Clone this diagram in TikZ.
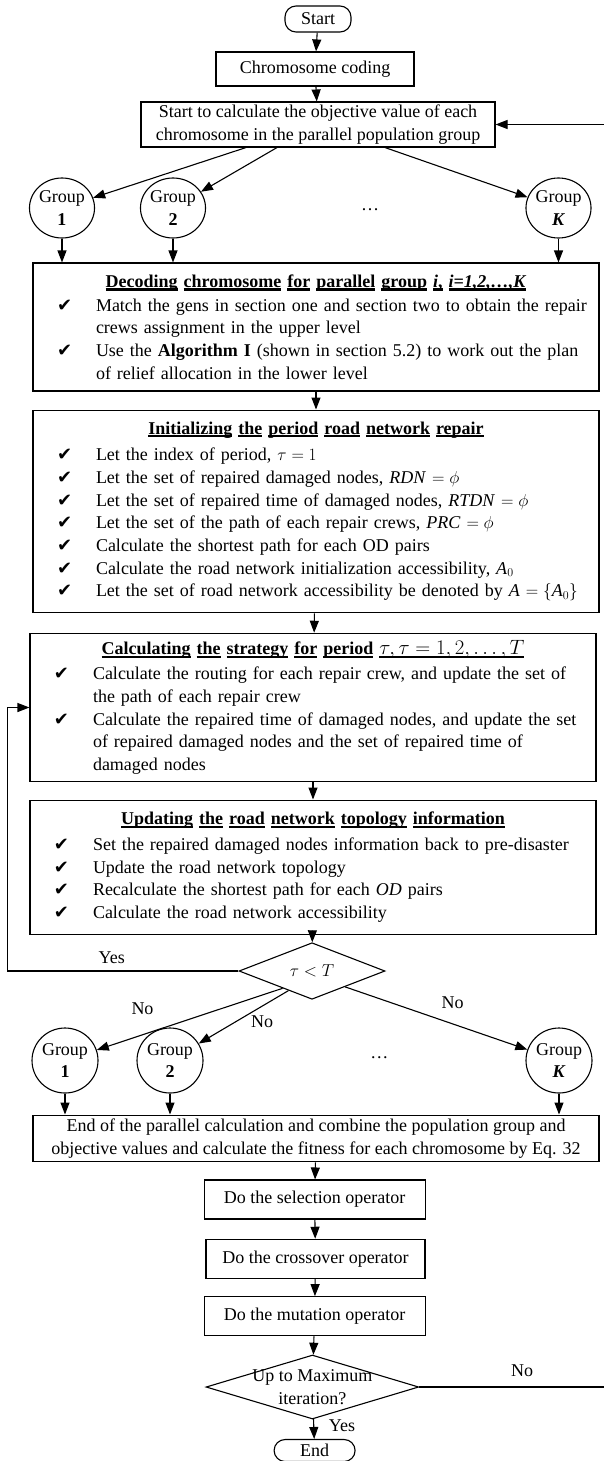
\documentclass[tikz,border=0pt]{standalone}
\usepackage{fontspec}
\setmainfont{Liberation Serif}
\newfontfamily\symfont{DejaVu Sans}
\usetikzlibrary{shapes.geometric,arrows.meta,calc}

% word-wise underline for the box titles
\newcommand\uw[1]{\setbox0=\hbox{#1}\rlap{\rule[-3.4pt]{\wd0}{2.4pt}}\box0\relax}
\newcommand\chk{\makebox[59pt][l]{\hspace{20pt}{\symfont\fontsize{18pt}{18pt}\selectfont ✔}}}
\newcommand\itm[1]{\par\noindent\chk#1}
\newcommand\nl{\newline\hspace*{59pt}}

\tikzset{
  blk/.style={draw, rectangle, inner sep=0pt, align=center},
  term/.style={draw, rectangle, rounded corners=11pt, inner sep=0pt},
  grp/.style={draw, ellipse, minimum width=63pt, minimum height=60pt, inner sep=0pt, align=center},
  lst/.style={draw, rectangle, inner xsep=4pt, inner ysep=0pt, text width=558pt, align=left},
  dec/.style={draw, diamond, inner sep=0pt},
}

\begin{document}
\begin{tikzpicture}[x=1pt, y=-1pt, line width=1.1pt,
    >={Triangle[length=12pt,width=9pt]},
    font=\fontsize{18pt}{22.7pt}\selectfont]
  \useasboundingbox (0,0) rectangle (604,1461);
  \clip (0,0) rectangle (604,1461);

  \node[term, minimum width=66pt, minimum height=26pt] (start) at (318,19) {Start};
  \node[blk, minimum width=198pt, minimum height=34pt] (code) at (315,69) {Chromosome coding};
  \node[blk, minimum width=354pt, minimum height=45pt] (calc) at (318,124.5)
    {Start to calculate the objective value of each\\chromosome in the parallel population group};

  \foreach \n/\x/\t in {ga1/62/1, ga2/173/2, gaK/558.5/\textit{K}}{
    \node[grp] (\n) at (\x,208) {Group\\\textbf{\t}};
  }
  \node (dotsA) at (370,210) {\dots};

  \node[lst, minimum height=128pt] (decode) at (316,327) {%
    {\centering\bfseries \uw{Decoding} \uw{chromosome} \uw{for} \uw{parallel} \uw{group}
      \uw{\textit{i},} \uw{\textit{i=1,2,\dots,K}}\par}\vspace{1pt}
    \itm{Match the gens in section one and section two to obtain the repair\nl crews assignment in the upper level}
    \itm{Use the \textbf{Algorithm I} (shown in section 5.2) to work out the plan\nl of relief allocation in the lower level}};

  \node[lst, minimum height=202.7pt] (init) at (316,511.4) {%
    {\centering\bfseries \uw{Initializing} \uw{the} \uw{period} \uw{road} \uw{network} \uw{repair}\par}\vspace{4pt}
    \itm{Let the index of period, $\tau=1$}
    \itm{Let the set of repaired damaged nodes, \textit{RDN} $=\phi$}
    \itm{Let the set of repaired time of damaged nodes, \textit{RTDN} $=\phi$}
    \itm{Let the set of the path of each repair crews, \textit{PRC} $=\phi$}
    \itm{Calculate the shortest path for each OD pairs}
    \itm{Calculate the road network initialization accessibility, \textit{A}$_0$}
    \itm{Let the set of road network accessibility be denoted by \textit{A} $=\{$\textit{A}$_0\}$}};

  \node[lst, minimum height=148.4pt] (strat) at (313,707.5) {%
    {\centering\bfseries \uw{Calculating} \uw{the} \uw{strategy} \uw{for} \uw{period}
      \uw{\fontsize{21pt}{22pt}\selectfont$\tau,\tau=1,2,\dots,T$}\par}\vspace{2pt}
    \itm{Calculate the routing for each repair crew, and update the set of\nl the path of each repair crew}
    \itm{Calculate the repaired time of damaged nodes, and update the set\nl of repaired damaged nodes and the set of repaired time of\nl damaged nodes}};

  \node[lst, minimum height=134.3pt] (upd) at (313,867.2) {%
    {\centering\bfseries \uw{Updating} \uw{the} \uw{road} \uw{network} \uw{topology} \uw{information}\par}\vspace{3pt}
    \itm{Set the repaired damaged nodes information back to pre-disaster}
    \itm{Update the road network topology}
    \itm{Recalculate the shortest path for each \textit{OD} pairs}
    \itm{Calculate the road network accessibility}};

  \node[dec, minimum width=146pt, minimum height=39pt] (cond) at (312,971) {$\tau<T$};

  \foreach \n/\x/\t in {gb1/65/1, gb2/170/2, gbK/559/\textit{K}}{
    \node[grp, minimum width=66pt, minimum height=65pt] (\n) at (\x,1060.5) {Group\\\textbf{\t}};
  }
  \node (dotsB) at (379.4,1058) {\dots};

  \node[blk, minimum width=566pt, minimum height=46.7pt] (fin) at (316,1138.4)
    {End of the parallel calculation and combine the population group and\\objective values and calculate the fitness for each chromosome by Eq. 32};
  \node[blk, minimum width=221pt, minimum height=39pt] (sel) at (314.6,1199.5) {Do the selection operator};
  \node[blk, minimum width=219pt, minimum height=39pt] (cross) at (315.5,1258.8) {Do the crossover operator};
  \node[blk, minimum width=221pt, minimum height=39pt] (mut) at (314.6,1316.2) {Do the mutation operator};
  \node[dec, minimum width=212.7pt, minimum height=64pt] (maxit) at (312.4,1387) {};
  \node[align=center] (maxtxt) at (312.4,1387) {Up to Maximum\\iteration?};
  \node[term, minimum width=81pt, minimum height=22pt] (stop) at (314.6,1450.5) {End};

  % labels
  \node (yes1) at (111.7,957.3) {Yes};
  \node (no1) at (142.5,1008.3) {No};
  \node (no2) at (262,1021.7) {No};
  \node (no3) at (452.6,1002.7) {No};
  \node (no4) at (522,1370.7) {No};
  \node (yes2) at (342,1426) {Yes};

  % main column
  \foreach \a/\b in {start/code, code/calc, decode/init, init/strat, strat/upd, upd/cond,
                     fin/sel, sel/cross, cross/mut, mut/maxit, maxit/stop}{
    \draw[->] (\a) -- (\b);
  }
  % parallel groups
  \foreach \dx/\g in {-72/ga1, -41/ga2, 67/gaK}{
    \draw[->] ([xshift=\dx pt]calc.south) -- (\g);
  }
  \foreach \g in {ga1, ga2, gaK}{
    \draw[->] (\g) -- (\g |- decode.north);
  }
  \foreach \f/\a/\g in {0.4/west/gb1, 0.32/west/gb2, 0.45/east/gbK}{
    \draw[->] ($(cond.south)!\f!(cond.\a)$) -- (\g);
  }
  \foreach \g in {gb1, gb2, gbK}{
    \draw[->] (\g) -- (\g |- fin.north);
  }
  % loops
  \coordinate (yesturn) at (7.5,971);
  \draw[->] (cond.west) -- (yesturn) |- (strat.west);
  \coordinate (noturn) at (620,1387);
  \draw[->] (maxit.east) -- (noturn) |- (calc.east);
\end{tikzpicture}
\end{document}
